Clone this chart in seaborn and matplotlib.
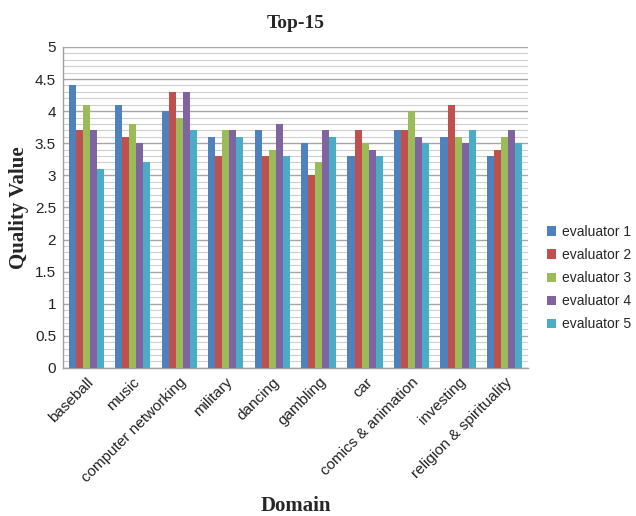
import numpy as np
import pandas as pd
import matplotlib
matplotlib.use("Agg")
import matplotlib.pyplot as plt
import seaborn as sns
from matplotlib.ticker import MultipleLocator

domains = ["baseball", "music", "computer networking", "military", "dancing",
           "gambling", "car", "comics & animation", "investing",
           "religion & spirituality"]
evaluators = ["evaluator 1", "evaluator 2", "evaluator 3", "evaluator 4", "evaluator 5"]

eval1 = [4.4, 4.1, 4.0, 3.6, 3.7, 3.5, 3.3, 3.7, 3.6, 3.3]
eval2 = [3.7, 3.6, 4.3, 3.3, 3.3, 3.0, 3.7, 3.7, 4.1, 3.4]
eval3 = [4.1, 3.8, 3.9, 3.7, 3.4, 3.2, 3.5, 4.0, 3.6, 3.6]
eval4 = [3.7, 3.5, 4.3, 3.7, 3.8, 3.7, 3.4, 3.6, 3.5, 3.7]
eval5 = [3.1, 3.2, 3.7, 3.6, 3.3, 3.6, 3.3, 3.5, 3.7, 3.5]

colors = ["#4F81BD", "#C0504D", "#9BBB59", "#8064A2", "#4BACC6"]

rows = []
for name, vals in zip(evaluators, [eval1, eval2, eval3, eval4, eval5]):
    for d, v in zip(domains, vals):
        rows.append({"Domain": d, "Evaluator": name, "Quality": v})
df = pd.DataFrame(rows)

sns.set_style("white")
fig = plt.figure(figsize=(6.36, 5.16), dpi=100)
ax = fig.add_axes([0.099, 0.287, 0.731, 0.622])

sns.barplot(data=df, x="Domain", y="Quality", hue="Evaluator",
            palette=colors, width=0.76, gap=0, saturation=1,
            edgecolor="none", linewidth=0, ax=ax, zorder=3)

ax.set_ylim(0, 5)
ax.set_xlim(-0.5, len(domains) - 0.5)
ax.yaxis.set_major_locator(MultipleLocator(0.5))
ax.yaxis.set_minor_locator(MultipleLocator(0.1))
ax.grid(axis="y", which="major", color="#a6a6a6", linewidth=1.0, zorder=0)
ax.grid(axis="y", which="minor", color="#cfcfcf", linewidth=0.8, zorder=0)
ax.set_axisbelow(True)

for s in ["top", "right"]:
    ax.spines[s].set_visible(False)
for s in ["left", "bottom"]:
    ax.spines[s].set_color("#a0a0a0")
    ax.spines[s].set_linewidth(1.0)

tick_font = "Liberation Sans"
ax.set_yticks(np.arange(0, 5.01, 0.5))
ax.set_yticklabels(["0", "0.5", "1", "1.5", "2", "2.5", "3", "3.5", "4", "4.5", "5"],
                   fontsize=11, family=tick_font, color="#222222")
ax.set_xticks(range(len(domains)))
ax.set_xticklabels(domains, rotation=45, ha="right", rotation_mode="anchor",
                   fontsize=11, family=tick_font, color="#222222")
ax.tick_params(axis="both", which="both", length=0, pad=5)

ax.set_xlabel("Domain", fontsize=15, fontweight="bold", family="Liberation Serif")
ax.set_ylabel("Quality Value", fontsize=15, fontweight="bold", family="Liberation Serif", labelpad=4)
ax.xaxis.set_label_coords(0.5, -0.40)
ax.set_title("Top-15", fontsize=14, fontweight="bold", family="Liberation Serif", pad=14)

handles, labels = ax.get_legend_handles_labels()
ax.legend(handles, labels, loc="center left", bbox_to_anchor=(1.015, 0.28),
          frameon=False, prop={"family": tick_font, "size": 10},
          handlelength=0.65, handleheight=0.65, handletextpad=0.4, labelspacing=0.65)

fig.savefig("out.png", dpi=100)
